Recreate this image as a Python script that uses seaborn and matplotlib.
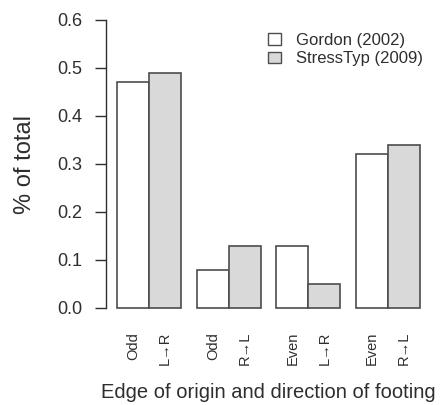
import matplotlib
matplotlib.use("Agg")
import matplotlib.pyplot as plt
import pandas as pd
import seaborn as sns
from matplotlib.patches import Patch
from matplotlib.transforms import blended_transform_factory, offset_copy

# Edge of origin and direction of footing for each pair of bars
edges = ["Odd", "Odd", "Even", "Even"]
directions = ["L\u2192R", "R\u2192L", "L\u2192R", "R\u2192L"]
sources = ["Gordon (2002)", "StressTyp (2009)"]
gordon = [0.47, 0.08, 0.13, 0.32]
stresstyp = [0.49, 0.13, 0.05, 0.34]
yticks = [0.0, 0.1, 0.2, 0.3, 0.4, 0.5, 0.6]

sns.set_theme(style="white")
plt.rcParams["font.family"] = ["Liberation Sans", "DejaVu Sans"]

ink = "#2e2e2e"
edge_col = "#4d4d4d"
fills = ["white", "#d9d9d9"]

categories = [f"{e} {d}" for e, d in zip(edges, directions)]
df = pd.DataFrame({
    "category": categories * 2,
    "source": [sources[0]] * len(categories) + [sources[1]] * len(categories),
    "value": gordon + stresstyp,
})

fig = plt.figure(figsize=(4.4, 4.05), dpi=100)
ax = fig.add_axes([106 / 440, 1 - 308 / 405, (430 - 106) / 440, 288 / 405])

sns.barplot(data=df, x="category", y="value", hue="source",
            order=categories, hue_order=sources, palette=fills,
            saturation=1, edgecolor=edge_col, linewidth=1.2,
            errorbar=None, legend=False, ax=ax)

ax.set_xlim(-0.541, 3.528)
ax.set_ylim(0, 0.6)

for side in ["top", "right", "bottom"]:
    ax.spines[side].set_visible(False)
ax.spines["left"].set_color(ink)
ax.spines["left"].set_linewidth(1.0)
ax.spines["left"].set_bounds(0, 0.6)

ax.set_yticks(yticks, labels=[f"{t:.1f}" for t in yticks])
ax.tick_params(axis="y", direction="out", length=8, width=1.0, pad=9,
               labelsize=13, colors=ink, left=True)
ax.set_xticks([])
for p in ax.patches:
    p.set_clip_on(False)

# One rotated label under each bar: edge under Gordon, direction under StressTyp
bar_labels = []
for e, d in zip(edges, directions):
    bar_labels += [e, d]
bars = sorted(ax.patches, key=lambda p: p.get_x())
trans = offset_copy(blended_transform_factory(ax.transData, ax.transAxes),
                    fig=fig, y=-24, units="dots")
for p, lab in zip(bars, bar_labels):
    ax.text(p.get_x() + p.get_width() / 2, 0, lab, transform=trans,
            rotation=90, ha="center", va="top", fontsize=10.5, color=ink)

ax.set_ylabel("% of total", fontsize=17, color=ink, va="center")
ax.yaxis.set_label_coords((25 - 106) / 324, 0.5)
ax.set_xlabel("Edge of origin and direction of footing", fontsize=14.5,
              color=ink, va="center")
ax.xaxis.set_label_coords(0.5, (308 - 393) / 288)

handles = [Patch(facecolor=c, edgecolor=edge_col, linewidth=1.0) for c in fills]
ax.legend(handles, sources, loc="upper left",
          bbox_to_anchor=(268 / 440, 1 - 33 / 405), bbox_transform=fig.transFigure,
          frameon=False, fontsize=12, handlelength=0.8, handleheight=0.7,
          handletextpad=0.9, labelspacing=0.2, borderpad=0, borderaxespad=0,
          labelcolor=ink)

fig.savefig("out.png", dpi=100, facecolor="white")
